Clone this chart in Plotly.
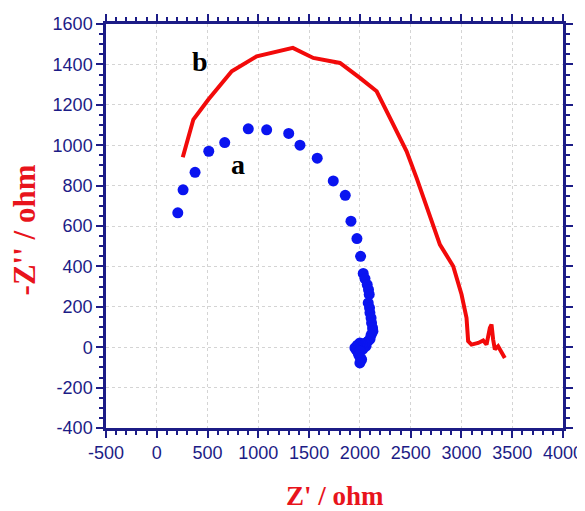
import plotly.graph_objects as go

# Curve a (blue dots)
a_x = [207, 259, 377, 512, 669, 901, 1082, 1299, 1410, 1580, 1738, 1856, 1912, 1971,
       2007, 2033, 2050, 2072, 2085, 2092, 2082, 2095, 2099, 2110, 2115, 2125, 2128,
       2110, 2100, 2080, 2060, 2050, 2030, 2020, 2000, 1990, 1975, 1970, 1951, 1965,
       1975, 1984, 2000, 1990, 2017, 2010, 2000]
a_y = [665, 779, 866, 970, 1013, 1081, 1076, 1058, 1000, 936, 823, 752, 624, 538,
       450, 365, 340, 310, 285, 261, 219, 195, 170, 145, 120, 95, 79,
       60, 40, 30, 5, 20, -10, 15, 21, 10, 10, 0, -3, -15,
       -15, -28, -20, -40, -61, -55, -78]

# Curve b (red line)
b_x = [256, 360, 508, 738, 984, 1340, 1541, 1804, 2000, 2165, 2296, 2460, 2558, 2657,
       2788, 2919, 3001, 3050, 3066, 3099, 3165, 3214, 3247, 3280, 3296, 3312, 3329,
       3361, 3394, 3411, 3427]
b_y = [940, 1127, 1226, 1366, 1440, 1482, 1432, 1407, 1333, 1267, 1135, 970, 838, 690,
       508, 401, 261, 145, 30, 13, 21, 33, 13, 96, 112, 38, -11,
       5, -28, -45, -53]

x_ticks = [-500, 0, 500, 1000, 1500, 2000, 2500, 3000, 3500, 4000]
y_ticks = [-400, -200, 0, 200, 400, 600, 800, 1000, 1200, 1400, 1600]

navy = "#1c1c86"
tickfont = dict(family="Liberation Sans, Arial, sans-serif", size=18, color=navy)

fig = go.Figure()
fig.add_trace(go.Scatter(x=a_x, y=a_y, mode="markers",
                         marker=dict(color="#0a14f0", size=11), showlegend=False))
fig.add_trace(go.Scatter(x=b_x, y=b_y, mode="lines",
                         line=dict(color="#f20a0a", width=4), showlegend=False))

axis_common = dict(
    showline=True, linecolor=navy, linewidth=2.5, mirror="allticks",
    ticks="outside", ticklen=7, tickwidth=2, tickcolor=navy,
    showgrid=True, gridcolor="#d4d4d4", griddash="dot", gridwidth=1,
    zeroline=False, tickfont=tickfont, automargin=False,
)

fig.update_xaxes(range=[-500, 4000], tickvals=x_ticks, ticktext=[str(v) for v in x_ticks],
                 minor=dict(dtick=100, ticks="outside", ticklen=4, tickwidth=1.5,
                            tickcolor=navy, showgrid=False),
                 **axis_common)
fig.update_yaxes(range=[-400, 1600], tickvals=y_ticks, ticktext=[str(v) for v in y_ticks],
                 minor=dict(dtick=50, ticks="outside", ticklen=4, tickwidth=1.5,
                            tickcolor=navy, showgrid=False),
                 **axis_common)

xtitlefont = dict(family="Liberation Serif, Times New Roman, serif", size=27, color="#e8141c")
ytitlefont = dict(family="Liberation Serif, Times New Roman, serif", size=31, color="#e8141c")
labelfont = dict(family="Liberation Serif, Times New Roman, serif", size=28, color="#000000")

fig.add_annotation(text="<b>Z' / ohm</b>", xref="paper", yref="paper", x=0.5, y=0,
                   xanchor="center", yanchor="middle", yshift=-68, showarrow=False,
                   font=xtitlefont)
fig.add_annotation(text="<b>-Z'' / ohm</b>", xref="paper", yref="paper", x=0, y=0.489,
                   xanchor="center", yanchor="middle", xshift=-82, textangle=-90,
                   showarrow=False, font=ytitlefont)
fig.add_annotation(text="<b>b</b>", x=426, y=1416, showarrow=False, font=labelfont)
fig.add_annotation(text="<b>a</b>", x=800, y=906, showarrow=False, font=labelfont)

# page body has an 8px default margin; size the figure so it fits the 585x511 window
fig.update_layout(
    width=577, height=503,
    margin=dict(l=98, r=22, t=16, b=83, autoexpand=False),
    plot_bgcolor="white", paper_bgcolor="white",
)

fig.write_html("out.html")
